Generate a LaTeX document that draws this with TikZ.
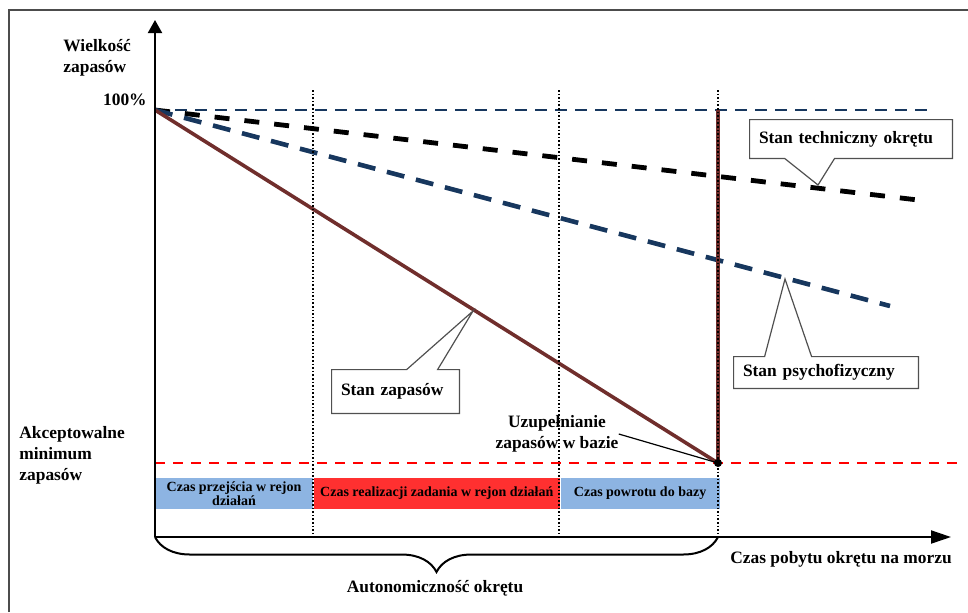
\documentclass[tikz,border=0pt]{standalone}
\usepackage{fontspec}
\setmainfont{Liberation Serif}
\usetikzlibrary{positioning,arrows.meta,calc,decorations.pathreplacing}
\definecolor{stockbrown}{RGB}{112,46,44}
\definecolor{navyline}{RGB}{23,55,94}
\definecolor{barblue}{RGB}{141,180,226}
\definecolor{barred}{RGB}{255,48,48}
\definecolor{calloutgray}{RGB}{80,80,80}
\tikzset{
  lbl/.style={font=\bfseries\fontsize{8.7pt}{10.5pt}\selectfont, inner sep=0pt},
  barlbl/.style={font=\bfseries\fontsize{7pt}{6.8pt}\selectfont, align=center, inner sep=0pt, minimum height=15.5pt},
  calltext/.style={lbl, inner xsep=4.5pt, align=left},
  callout/.style={draw=calloutgray, line width=0.6pt},
  axis/.style={line width=1pt, black},
  divider/.style={line width=0.8pt, dash pattern=on 0.8pt off 1pt},
}

\begin{document}
\begin{tikzpicture}[x=0.5pt,y=-0.5pt]
  \useasboundingbox (0,0) rectangle (968,612);
  \draw[gray!60!black,line width=0.7pt] (9,612) -- (9,10) -- (968,10);

  % time bars
  \node[barlbl, fill=barblue, minimum width=79pt] (transit) at (234,493.5) {Czas przejścia w rejon\\działań};
  \node[barlbl, fill=barred, minimum width=123pt, right=0pt of transit] (task) {Czas realizacji zadania w rejon działań};
  \node[barlbl, fill=barblue, minimum width=79.5pt, right=0pt of task] (back) {Czas powrotu do bazy};

  \coordinate (O) at (155,537);
  \coordinate (ytop) at (155,20);
  \coordinate (xend) at (951,537);
  \coordinate (full) at (155,110);
  \coordinate (refill) at (718,463);
  \coordinate (ret) at (718,537);

  \draw[navyline,line width=1.3pt,dash pattern=on 6pt off 4pt] (full) -- (930,110);
  \draw[red,line width=1.3pt,dash pattern=on 5pt off 4pt] (155,463) -- (960,463);
  \draw[black,line width=2.4pt,dash pattern=on 7.5pt off 7.5pt] (full) -- (918,200);
  \draw[navyline,line width=2.3pt,dash pattern=on 9pt off 6pt] (full) -- (890,306);
  \draw[stockbrown,line width=1.8pt] (full) -- (refill) -- (718,110);
  \foreach \x in {313,559,718}
    \draw[divider] (\x,90) -- (\x,537);

  % axes
  \draw[axis,-{Triangle[length=6.5pt,width=7pt]}] (O) -- (ytop);
  \draw[axis,-{Triangle[length=10pt,width=6.5pt]}] (O) -- (xend);
  \draw[axis,decorate,decoration={brace,mirror,amplitude=17.5pt}] (O) -- (ret);
  \fill (refill) circle (2pt);

  \node[lbl, align=left, anchor=west] (ylabel) at (63,58) {Wielkość\\zapasów};
  \node[lbl, anchor=east] (hundred) at (147,100) {100\%};
  \node[lbl, align=left, anchor=west] (minlabel) at (19,455) {Akceptowalne\\minimum\\zapasów};
  \node[lbl] (xlabel) at (841,559) {Czas pobytu okrętu na morzu};
  \node[lbl] (autonomy) at (435,588) {Autonomiczność okrętu};
  \node[lbl, align=center] (uzup) at (557,434) {Uzupełnianie\\zapasów w bazie};
  \draw[line width=0.6pt] (uzup.east) -- (refill);

  % callouts
  \coordinate (techtip) at (818,185);
  \coordinate (psychtip) at (785,279);
  \coordinate (stocktip) at (473,311);
  \node[calltext, text width=92pt, minimum height=19pt] (techbox) at (851,139) {Stan techniczny okrętu};
  \draw[callout] (techbox.north west) -- (techbox.north east) -- (techbox.south east)
    -- ($(techbox.south west)+(85,0)$) -- (techtip) -- ($(techbox.south west)+(35,0)$)
    -- (techbox.south west) -- cycle;
  \node[calltext, text width=83pt, minimum height=15.5pt] (psychbox) at (826,372.5) {Stan psychofizyczny};
  \draw[callout] (psychbox.south west) -- (psychbox.south east) -- (psychbox.north east)
    -- ($(psychbox.north west)+(78,0)$) -- (psychtip) -- ($(psychbox.north west)+(31,0)$)
    -- (psychbox.north west) -- cycle;
  \node[calltext, text width=54.5pt, minimum height=21.5pt] (stockbox) at (395.5,391.5) {Stan zapasów};
  \draw[callout] (stockbox.south west) -- (stockbox.south east) -- (stockbox.north east)
    -- ($(stockbox.north west)+(106,0)$) -- (stocktip) -- ($(stockbox.north west)+(75,0)$)
    -- (stockbox.north west) -- cycle;
\end{tikzpicture}
\end{document}
